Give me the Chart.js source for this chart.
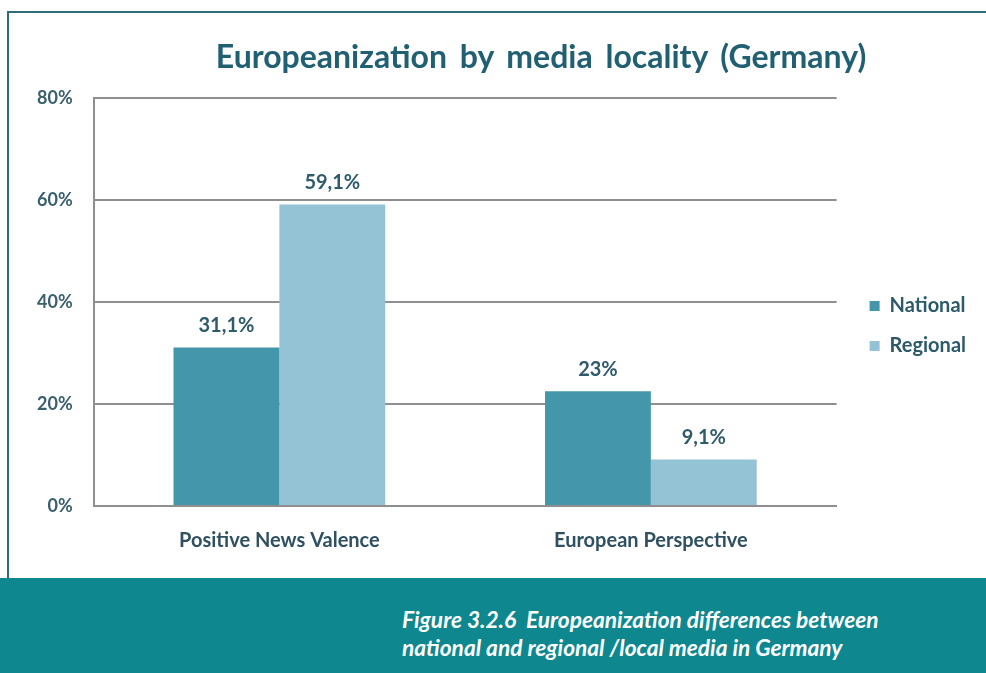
<!DOCTYPE html>
<html>
<head>
<meta charset="utf-8">
<script src="https://cdn.jsdelivr.net/npm/chart.js@4.4.1/dist/chart.umd.min.js"></script>
<style>
  body { margin: 0; background: #fff; width: 986px; height: 673px; overflow: hidden; position: relative; font-family: Lato, sans-serif; }
  #frame { position: absolute; left: 7px; top: 11px; width: 984px; height: 567px; border-left: 2px solid #2d6d7b; border-top: 2px solid #2d6d7b; box-sizing: border-box; }
  #titel { position: absolute; left: 0; top: 36px; width: 1082px; text-align: center; font-weight: bold; font-size: 32px; color: #215f72; word-spacing: 5px; }
  #bunn { position: absolute; left: 0; top: 578px; width: 986px; height: 95px; background: #0e878f; }
  #tekst { position: absolute; left: 402px; top: 606px; color: #fff; font-style: italic; font-weight: bold; font-size: 22.7px; line-height: 28px; }
  canvas { position: absolute; left: 8px; top: 12px; }
</style>
</head>
<body>
<div id="frame"></div>
<canvas id="myChart" width="978" height="566"></canvas>
<div id="titel">Europeanization by media locality (Germany)</div>
<div id="bunn"></div>
<div id="tekst">Figure 3.2.6&nbsp; Europeanization differences between<br>national and regional /local media in Germany</div>

<script>
// dataene til diagrammet
const kategorier = ['Positive News Valence', 'European Perspective'];
const nasjonal = [31.1, 22.5];
const regional = [59.1, 9.1];
// tekstene som står over søylene
const nasjonalTekst = ['31,1%', '23%'];
const regionalTekst = ['59,1%', '9,1%'];
const yMaks = 80;
const ySteg = 20;

// skriver verdiene over hver søyle
const verdiTekst = {
  id: 'verdiTekst',
  afterDatasetsDraw(chart) {
    const ctx = chart.ctx;
    const tekster = [nasjonalTekst, regionalTekst];
    ctx.save();
    ctx.font = 'bold 20px Lato';
    ctx.fillStyle = '#2f5b6a';
    ctx.textAlign = 'center';
    ctx.textBaseline = 'middle';
    chart.data.datasets.forEach((ds, i) => {
      chart.getDatasetMeta(i).data.forEach((bar, j) => {
        ctx.fillText(tekster[i][j], bar.x, bar.y - 22);
      });
    });
    ctx.restore();
  }
};

const ctx = document.getElementById('myChart');

new Chart(ctx, {
  type: 'bar',
  data: {
    labels: kategorier,
    datasets: [{
      label: 'National',
      data: nasjonal,
      backgroundColor: '#4496ab',
      categoryPercentage: 0.57,
      barPercentage: 1
    }, {
      label: 'Regional',
      data: regional,
      backgroundColor: '#93c3d4',
      categoryPercentage: 0.57,
      barPercentage: 1
    }]
  },
  plugins: [verdiTekst],
  options: {
    responsive: false,
    animation: false,
    layout: { padding: { left: 8, right: 10, top: 86, bottom: 24 } },
    plugins: {
      title: { display: false },
      tooltip: { enabled: false },
      legend: {
        position: 'right',
        labels: {
          boxWidth: 10,
          boxHeight: 10,
          padding: 20,
          color: '#2d5a6a',
          font: { family: 'Lato', weight: 'bold', size: 20 }
        }
      }
    },
    scales: {
      x: {
        grid: { display: false, drawTicks: false },
        border: { display: true, color: '#8f8f8f', width: 2 },
        ticks: { padding: 23, color: '#2f5060', font: { family: 'Lato', weight: 'bold', size: 20 } },
        afterFit: s => { s.height = 48; }
      },
      y: {
        min: 0,
        max: yMaks,
        grid: { color: '#8f8f8f', lineWidth: 2, drawTicks: false },
        border: { display: true, color: '#8f8f8f', width: 2 },
        ticks: {
          stepSize: ySteg,
          padding: 21,
          color: '#3a5f6d',
          font: { family: 'Lato', weight: 'bold', size: 18 },
          callback: v => v + '%'
        }
      },
      // tom akse til høyre som gir litt luft før forklaringen
      luft: {
        position: 'right',
        display: true,
        grid: { display: false, drawTicks: false },
        border: { display: false },
        ticks: { display: false },
        afterFit: s => { s.width = 13; }
      }
    }
  }
});
</script>
</body>
</html>
